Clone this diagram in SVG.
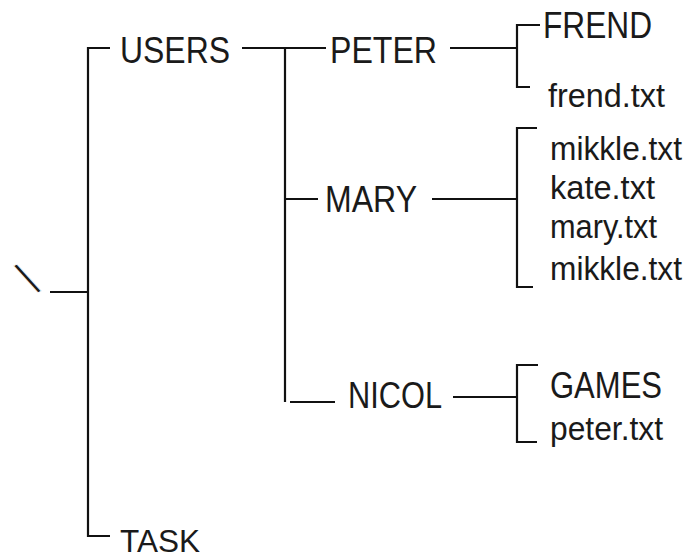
<svg xmlns="http://www.w3.org/2000/svg" width="689" height="560" viewBox="0 0 689 560">
<style>
.ln{stroke:#111;stroke-width:2.2;fill:none;stroke-linecap:butt}
.t{font-family:"Liberation Sans",Arial,sans-serif;font-size:36px;fill:#1a1a1a}
.s{font-family:"Liberation Sans",Arial,sans-serif;font-size:33px;fill:#1a1a1a}
</style>
<rect width="689" height="560" fill="#ffffff"/>
<g id="connectors">
<line class="ln" x1="50" y1="292" x2="88" y2="292"/>
<polyline class="ln" points="110,48 88,48 88,536 110,536"/>
<line class="ln" x1="242" y1="48" x2="326" y2="48"/>
<line class="ln" x1="285" y1="48" x2="285" y2="402"/>
<line class="ln" x1="285" y1="199" x2="318" y2="199"/>
<line class="ln" x1="290" y1="402" x2="335" y2="402"/>
<line class="ln" x1="450" y1="48" x2="517" y2="48"/>
<polyline class="ln" points="540,25 517,25 517,87 530,87"/>
<line class="ln" x1="432" y1="199" x2="517" y2="199"/>
<polyline class="ln" points="537,128 517,128 517,287 533,287"/>
<line class="ln" x1="453" y1="397" x2="517" y2="397"/>
<polyline class="ln" points="538,365 517,365 517,442 537,442"/>
</g>
<g id="node-root" transform="translate(27.5,278.5) rotate(-27)"><text class="t" x="0" y="17" text-anchor="middle" style="font-size:48px;stroke:#fff;stroke-width:0.8">\</text></g>
<g id="node-users"><text class="t" x="120" y="63" textLength="110" lengthAdjust="spacingAndGlyphs">USERS</text></g>
<g id="node-task"><text class="t" x="120" y="552" style="font-size:31px" textLength="80" lengthAdjust="spacingAndGlyphs">TASK</text></g>
<g id="node-peter"><text class="t" x="330" y="63" textLength="107" lengthAdjust="spacingAndGlyphs">PETER</text></g>
<g id="node-mary"><text class="t" x="325" y="212" textLength="92" lengthAdjust="spacingAndGlyphs">MARY</text></g>
<g id="node-nicol"><text class="t" x="348" y="408" textLength="94" lengthAdjust="spacingAndGlyphs">NICOL</text></g>
<g id="node-frend"><text class="t" x="543" y="38" textLength="109" lengthAdjust="spacingAndGlyphs">FREND</text></g>
<g id="node-frend-txt"><text class="s" x="548" y="107" textLength="117" lengthAdjust="spacingAndGlyphs">frend.txt</text></g>
<g id="node-mikkle1"><text class="s" x="550" y="160" textLength="132" lengthAdjust="spacingAndGlyphs">mikkle.txt</text></g>
<g id="node-kate"><text class="s" x="550" y="199" textLength="105" lengthAdjust="spacingAndGlyphs">kate.txt</text></g>
<g id="node-mary-txt"><text class="s" x="550" y="238" textLength="107" lengthAdjust="spacingAndGlyphs">mary.txt</text></g>
<g id="node-mikkle2"><text class="s" x="550" y="280" textLength="132" lengthAdjust="spacingAndGlyphs">mikkle.txt</text></g>
<g id="node-games"><text class="t" x="550" y="398" textLength="112" lengthAdjust="spacingAndGlyphs">GAMES</text></g>
<g id="node-peter-txt"><text class="s" x="550" y="440" textLength="113" lengthAdjust="spacingAndGlyphs">peter.txt</text></g>
</svg>
